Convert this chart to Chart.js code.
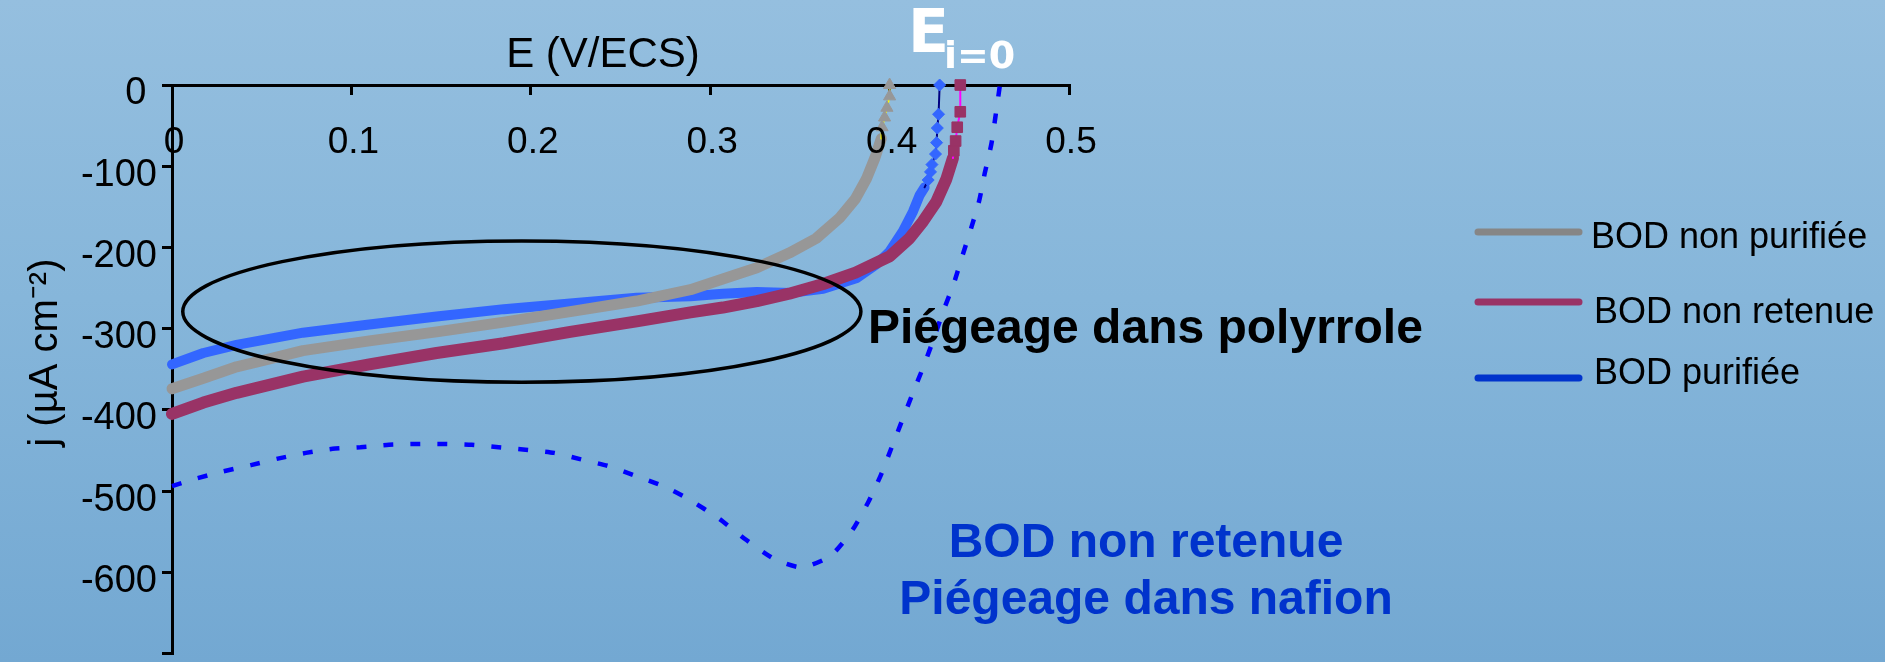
<!DOCTYPE html>
<html>
<head>
<meta charset="utf-8">
<script src="https://cdn.jsdelivr.net/npm/chart.js@4.4.1/dist/chart.umd.min.js"></script>
<style>
  html, body { margin: 0; padding: 0; }
  body {
    width: 1885px; height: 662px; overflow: hidden;
    background: linear-gradient(to bottom, #95BFDF 0%, #86B6DA 45%, #73A8D2 100%);
  }
  canvas { display: block; }
</style>
</head>
<body>
<canvas id="chart" width="1885" height="662"></canvas>
<script>
// Tick labels of the potential (V/ECS) and current density (µA cm-2) axes
const xTickLabels = ['0', '0.1', '0.2', '0.3', '0.4', '0.5'];
const yTickLabels = ['0 ', '-100', '-200', '-300', '-400', '-500', '-600', ''];

// BOD non purifiée (polypyrrole), triangles
const nonPurifieeE = [0, 0.0175, 0.036, 0.055, 0.073, 0.110, 0.1475, 0.185, 0.222, 0.259, 0.289, 0.307, 0.326, 0.344, 0.359, 0.372, 0.381, 0.387, 0.3916, 0.3954, 0.3958, 0.3972, 0.3985, 0.400, 0.400];
const nonPurifieeJ = [-374, -361, -347, -337, -327, -315, -304, -292, -279, -266, -252, -239, -225, -207, -189, -164, -140, -116, -91, -66, -52, -40, -28, -14, 0];

// BOD non retenue (polypyrrole), squares
const nonRetenueE = [0, 0.0175, 0.036, 0.073, 0.110, 0.1475, 0.185, 0.222, 0.259, 0.289, 0.307, 0.326, 0.344, 0.363, 0.381, 0.400, 0.411, 0.4186, 0.426, 0.4316, 0.4353, 0.4358, 0.4368, 0.4377, 0.4394, 0.4394];
const nonRetenueJ = [-405, -391, -379, -359, -344, -330, -318, -304, -291, -280, -274, -266, -257, -245, -231, -211, -189, -168, -144, -116, -90, -81, -69, -52, -33, 0];

// BOD purifiée (polypyrrole), diamonds
const purifieeE = [0, 0.0175, 0.036, 0.073, 0.110, 0.1475, 0.185, 0.222, 0.259, 0.289, 0.307, 0.326, 0.345, 0.363, 0.3814, 0.3926, 0.400, 0.4074, 0.413, 0.4167, 0.4195, 0.4215, 0.4228, 0.4236, 0.4256, 0.4262, 0.4266, 0.4273, 0.4279];
const purifieeJ = [-344, -330, -320, -305, -295, -285, -276, -269, -262, -260, -257, -255, -256, -251, -238, -221, -205, -180, -156, -136, -126, -117, -107, -98, -85, -71, -53, -36, 0];

// BOD non retenue (nafion), dashed
const nafionE = [0, 0.0128, 0.028, 0.044, 0.059, 0.0746, 0.0895, 0.105, 0.121, 0.136, 0.151, 0.167, 0.182, 0.197, 0.213, 0.228, 0.243, 0.258, 0.274, 0.288, 0.305, 0.320, 0.336, 0.351, 0.367, 0.379, 0.388, 0.395, 0.401, 0.407, 0.413, 0.419, 0.425, 0.430, 0.436, 0.4405, 0.4455, 0.450, 0.453, 0.4567, 0.459, 0.4615];
const nafionJ = [-494, -485, -476, -468, -460, -453, -448, -446, -443, -442, -442, -443, -446, -449, -453, -461, -469, -481, -494, -510, -534, -560, -584, -594, -580, -549, -514, -481, -447, -413, -379, -346, -310, -278, -243, -211, -176, -142, -109, -73, -39, 0];

const legendLabels = ['BOD non purifiée', 'BOD non retenue', 'BOD purifiée'];

// Drawing styles: the dense part of each curve is a thick band, the last points are markers
const styles = {
  nonPurifiee: { band: '#979797', line: '#FFFF00', bandWidth: 11, bandCount: 20, marker: 'triangle', radius: 7 },
  nonRetenue:  { band: '#993366', line: '#FF00FF', bandWidth: 12, bandCount: 21, marker: 'rect', radius: 7.5 },
  purifiee:    { band: '#3366FF', line: '#000080', bandWidth: 10, bandCount: 21, marker: 'rectRot', radius: 6 }
};

function toPoints(E, J) {
  return E.map((e, i) => ({ x: e, y: J[i] }));
}

function curve(label, E, J, s, order) {
  return {
    label: label,
    order: order,
    data: toPoints(E, J),
    showLine: true,
    borderColor: s.line,
    borderWidth: 2,
    borderCapStyle: 'round',
    borderJoinStyle: 'round',
    segment: {
      borderColor: c => (c.p1DataIndex < s.bandCount ? s.band : s.line),
      borderWidth: c => (c.p1DataIndex < s.bandCount ? s.bandWidth : 2)
    },
    pointStyle: s.marker,
    pointRadius: c => (c.dataIndex >= s.bandCount ? s.radius : 0),
    pointBackgroundColor: s.band,
    pointBorderColor: s.band,
    pointBorderWidth: 1,
    clip: { left: 7, top: 10, right: 0, bottom: 0 }
  };
}

// Ellipse circling the polypyrrole curves (in axis units)
const ellipse = { e: 0.195, j: -279, de: 0.189, dj: 87 };

const annotations = {
  id: 'annotations',
  afterDatasetsDraw(chart) {
    const ctx = chart.ctx;
    const x = chart.scales.x, y = chart.scales.y;
    ctx.save();

    // ellipse
    const cx = x.getPixelForValue(ellipse.e);
    const cy = y.getPixelForValue(ellipse.j);
    const rx = x.getPixelForValue(ellipse.e + ellipse.de) - cx;
    const ry = y.getPixelForValue(ellipse.j - ellipse.dj) - cy;
    ctx.beginPath();
    ctx.ellipse(cx, cy, rx, ry, 0, 0, Math.PI * 2);
    ctx.lineWidth = 3.5;
    ctx.strokeStyle = '#000000';
    ctx.stroke();

    // captions
    ctx.textBaseline = 'alphabetic';
    ctx.fillStyle = '#000000';
    ctx.textAlign = 'left';
    ctx.font = "bold 48px 'Liberation Sans', Arial, sans-serif";
    ctx.fillText('Piégeage dans polyrrole', 868, 343);

    ctx.fillStyle = '#0033CC';
    ctx.textAlign = 'center';
    ctx.fillText('BOD non retenue', 1146, 557);
    ctx.fillText('Piégeage dans nafion', 1146, 614);

    // E(i=0)
    ctx.fillStyle = '#FFFFFF';
    ctx.textAlign = 'left';
    ctx.font = "bold 60px 'DejaVu Sans', sans-serif";
    ctx.fillText('E', 908, 52);
    ctx.font = "bold 38px 'DejaVu Sans', sans-serif";
    ctx.fillText('i=0', 944, 68);

    // legend
    const legendRows = [
      { color: '#868686', lineY: 232, textX: 1591, textY: 248 },
      { color: '#993366', lineY: 302, textX: 1594, textY: 323 },
      { color: '#0033CC', lineY: 378, textX: 1594, textY: 384 }
    ];
    ctx.lineCap = 'round';
    ctx.lineWidth = 7;
    ctx.font = "36px 'Liberation Sans', Arial, sans-serif";
    legendRows.forEach((r, i) => {
      ctx.strokeStyle = r.color;
      ctx.beginPath();
      ctx.moveTo(1478, r.lineY);
      ctx.lineTo(1579, r.lineY);
      ctx.stroke();
      ctx.fillStyle = '#000000';
      ctx.fillText(legendLabels[i], r.textX, r.textY);
    });
    ctx.restore();
  }
};

Chart.defaults.font.family = "'Liberation Sans', Arial, sans-serif";
Chart.defaults.color = '#000000';

new Chart(document.getElementById('chart'), {
  type: 'scatter',
  data: {
    datasets: [
      curve('BOD non purifiée', nonPurifieeE, nonPurifieeJ, styles.nonPurifiee, 1),
      curve('BOD non retenue', nonRetenueE, nonRetenueJ, styles.nonRetenue, 0),
      curve('BOD purifiée', purifieeE, purifieeJ, styles.purifiee, 2),
      {
        label: 'BOD non retenue (nafion)',
        order: 3,
        data: toPoints(nafionE, nafionJ),
        showLine: true,
        borderColor: '#0000FF',
        borderWidth: 4.5,
        borderDash: [10, 17],
        tension: 0.2,
        pointRadius: 0,
        clip: { left: 2, top: 4, right: 0, bottom: 0 }
      }
    ]
  },
  options: {
    responsive: false,
    animation: false,
    devicePixelRatio: 1,
    events: [],
    layout: { padding: { left: 0, top: 0, right: 816, bottom: 2 } },
    plugins: {
      legend: { display: false },
      tooltip: { enabled: false }
    },
    scales: {
      x: {
        type: 'linear',
        position: 'top',
        min: 0,
        max: 0.5,
        afterFit: s => { s.height = 85; s.paddingLeft = 0; s.paddingRight = 0; },
        border: { display: true, color: '#000000', width: 3 },
        grid: { drawOnChartArea: false, drawTicks: true, tickLength: -10, color: '#000000', lineWidth: 3 },
        ticks: {
          // labels are drawn above the curves so they stay readable
          z: 1,
          stepSize: 0.1,
          autoSkip: false,
          maxRotation: 0,
          // labels sit inside the plot, below the axis line
          mirror: true,
          padding: 36,
          labelOffset: 2,
          font: { size: 37 },
          color: '#000000',
          callback: (v, i) => xTickLabels[i]
        },
        title: {
          display: true,
          // trailing spaces move the title a little to the left of the axis centre
          text: 'E (V/ECS)   ',
          font: { size: 42 },
          color: '#000000',
          padding: { top: 30, bottom: 0 }
        }
      },
      y: {
        type: 'linear',
        position: 'left',
        min: -700,
        max: 0,
        afterFit: s => { s.width = 172; s.paddingTop = 0; s.paddingBottom = 0; },
        border: { display: true, color: '#000000', width: 3 },
        grid: { drawOnChartArea: false, drawTicks: true, tickLength: 10, color: '#000000', lineWidth: 3 },
        ticks: {
          stepSize: 100,
          autoSkip: false,
          padding: 5,
          labelOffset: 9,
          font: { size: 38 },
          color: '#000000',
          callback: v => yTickLabels[Math.round(-v / 100)]
        },
        title: {
          display: true,
          // leading spaces lift the title above the axis centre
          text: '   j (µA cm⁻²)',
          font: { size: 40 },
          color: '#000000',
          padding: { top: 22, bottom: 0 }
        }
      }
    }
  },
  plugins: [annotations]
});
</script>
</body>
</html>
